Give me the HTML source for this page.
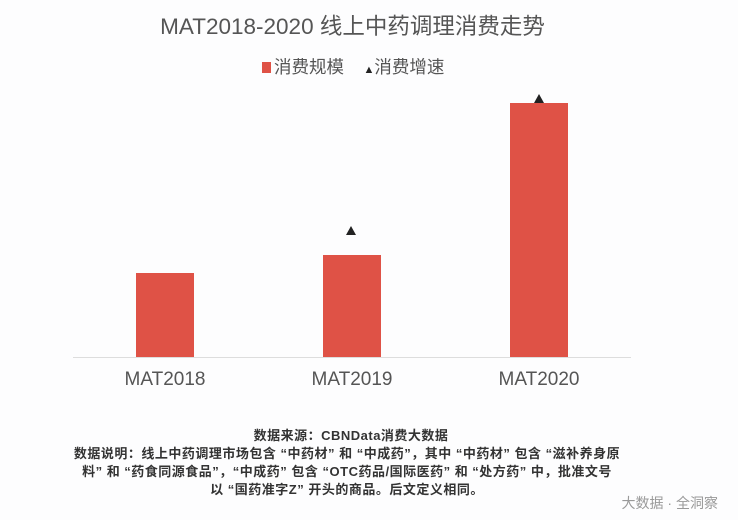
<!DOCTYPE html>
<html><head><meta charset="utf-8"><style>
body{margin:0;width:738px;height:520px;background:#fdfdfe;font-family:"Liberation Sans","Noto Sans CJK SC",sans-serif;position:relative;overflow:hidden}
.a{position:absolute;white-space:nowrap}
.bar{position:absolute;background:#df5246;width:58px}
.tri{position:absolute;width:0;height:0;border-left:5px solid transparent;border-right:5px solid transparent;border-bottom:9px solid #222}
.lab{position:absolute;top:369px;font-size:19px;color:#555;width:140px;text-align:center}
.ft{position:absolute;left:0;width:738px;text-align:center;font-size:13px;color:#333;font-weight:bold;letter-spacing:0.5px}
</style></head><body>
<div class="a" style="left:0;width:705px;text-align:center;top:9px;font-size:22.5px;color:#555">MAT2018-2020 线上中药调理消费走势</div>
<div class="a" style="left:262px;top:54px;font-size:17.5px;color:#555"><span style="display:inline-block;width:9px;height:11px;background:#df5246;margin-right:3px"></span>消费规模 &nbsp;&nbsp;&nbsp;<span style="font-size:11px;color:#222">▲</span>消费增速</div>
<div style="position:absolute;left:73px;width:558px;top:357px;height:1px;background:#ddd"></div>
<div class="bar" style="left:136px;top:273px;height:84px"></div>
<div class="bar" style="left:323px;top:255px;height:102px"></div>
<div class="bar" style="left:510px;top:103px;height:254px"></div>
<div class="tri" style="left:346px;top:226px"></div>
<div class="tri" style="left:534px;top:94px"></div>
<div class="lab" style="left:95px">MAT2018</div>
<div class="lab" style="left:282px">MAT2019</div>
<div class="lab" style="left:469px">MAT2020</div>
<div class="ft" style="top:425px;left:-18px">数据来源：CBNData消费大数据</div>
<div class="ft" style="top:443px;left:-22px">数据说明：线上中药调理市场包含 “中药材” 和 “中成药”，其中 “中药材” 包含 “滋补养身原</div>
<div class="ft" style="top:461px;left:-22px">料” 和 “药食同源食品”，“中成药” 包含 “OTC药品/国际医药” 和 “处方药” 中，批准文号</div>
<div class="ft" style="top:479px;left:-22px">以 “国药准字Z” 开头的商品。后文定义相同。</div>
<div class="a" style="right:20px;top:493px;font-size:14px;color:#999">大数据 · 全洞察</div>
</body></html>
